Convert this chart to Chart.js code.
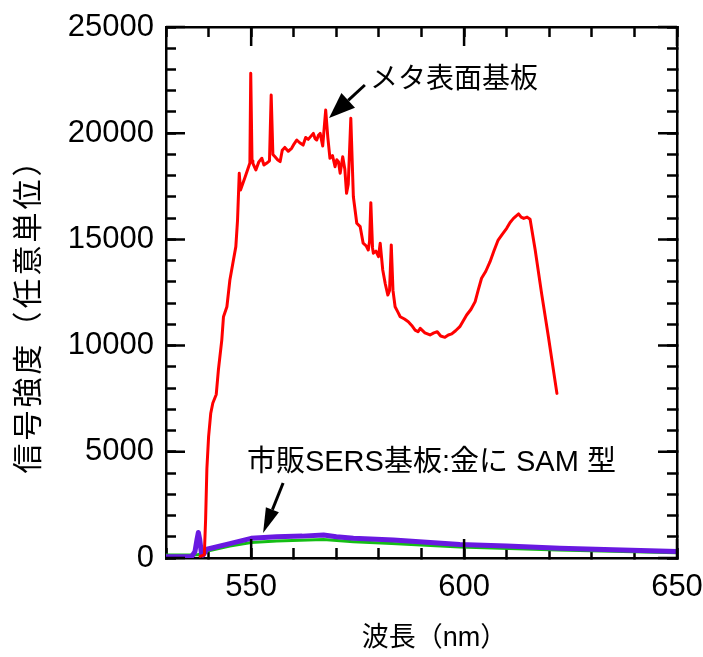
<!DOCTYPE html>
<html>
<head>
<meta charset="utf-8">
<script src="https://cdn.jsdelivr.net/npm/chart.js@4.4.0/dist/chart.umd.min.js"></script>
<style>
  html, body { margin: 0; padding: 0; background: #fff; }
</style>
</head>
<body>
<canvas id="spec" width="703" height="657"></canvas>
<script>
// metasurface substrate (red)
const redNm = [538.0, 539.0, 539.3, 539.6, 540.0, 540.5, 541.0, 541.8, 542.3, 543.1, 543.5, 544.3, 545.0, 545.7, 546.4, 546.8,
  547.2, 547.5, 548.6, 549.4, 549.7, 549.9, 550.2, 550.4, 551.1, 551.8, 552.5, 553.0, 553.6, 554.3, 554.7, 555.1, 555.6,
  556.2, 556.8, 557.3, 557.9, 558.7, 559.5, 560.1, 560.7, 561.4, 562.2, 562.8, 563.4, 564.0, 564.6, 565.0, 565.4, 565.8,
  566.2, 566.8, 567.5, 568.0, 568.5, 569.1, 569.7, 570.1, 570.5, 570.9, 571.5, 572.0, 572.4, 572.8,
  573.4, 574.0, 574.8, 575.6, 576.3, 577.0, 577.5, 577.8, 578.1, 578.5, 578.7, 579.3, 579.9, 580.3, 580.9, 581.5, 582.1,
  582.5, 582.9, 583.3, 583.8, 584.4, 585.0, 586.0, 586.9, 587.7, 588.5, 589.2, 589.7, 590.8, 592.0, 592.9, 593.7, 594.5,
  595.5, 596.3, 597.1, 598.0, 599.0, 600.6, 601.6, 602.6, 603.3, 604.1, 605.1, 606.1, 607.0, 608.0, 609.0, 610.0, 610.8,
  611.6, 612.2, 612.8, 613.4, 614.0, 614.8, 615.5, 616.7, 618.2, 619.8, 621.8];
const redVal = [80, 150, 1800, 4200, 5700, 6800, 7300, 7700, 8850, 10260, 11360, 11830, 13090, 13880, 14660, 15910,
  18110, 17330, 17950, 18420, 18600, 22820, 18700, 18580, 18270, 18650, 18820, 18500, 18580, 18700, 21800, 19000, 18890,
  18750, 18660, 19200, 19330, 19150, 19290, 19500, 19680, 19550, 19440, 19800, 19710, 19850, 19990, 19750, 19680, 19900,
  19990, 19400, 21090, 19800, 18820, 18950, 18420, 18750, 18660, 18110, 18890, 18300, 17170, 17600,
  20700, 17010, 15760, 15600, 14820, 14700, 14500, 14900, 16730, 14600, 14350, 14450, 14190, 14820, 13560, 12900, 12380,
  12600, 14740, 12600, 11830, 11600, 11360, 11250, 11125, 10950, 10730, 10650, 10810, 10600, 10500, 10600, 10650, 10450,
  10390, 10500, 10550, 10700, 10890, 11440, 11700, 12070, 12600, 13170, 13500, 13950, 14450, 14970, 15250, 15520, 15800,
  15990, 16100, 16200, 16050, 15990, 16050, 15950, 14500, 12460, 10420, 7750];

// commercial SERS substrate (purple)
const purpleNm = [530, 536.0, 536.8, 537.3, 537.6, 537.9, 538.3, 538.7, 539.6, 545, 550, 556, 562, 567, 570, 574, 583.4,
  599, 610, 622.5, 635, 650];
const purpleVal = [60, 60, 300, 900, 1200, 900, 250, 140, 410, 680, 925, 1000, 1030, 1080, 1000, 925, 850,
  640, 560, 455, 390, 310];

// commercial SERS substrate (green)
const greenNm = [530, 536, 537.5, 539.5, 545, 550, 556, 567, 574, 583, 599, 622, 650];
const greenVal = [140, 140, 150, 320, 560, 730, 800, 870, 770, 680, 520, 380, 250];

// axes
const xMin = 530, xMax = 650, xStep = 10;
const yMin = 0, yMax = 25000, yStep = 1000;
const xMajor = [550, 600, 650];
const yMajor = [0, 5000, 10000, 15000, 20000, 25000];

// annotations (data units)
const noteText = ['メタ表面基板', '市販SERS基板:金に SAM 型'];
const noteNm = [577.9, 549.0];
const noteVal = [22500, 4470];
const arrowFromNm = [576.7, 557.5];
const arrowFromVal = [22270, 3530];
const arrowToNm = [568.3, 552.8];
const arrowToVal = [20715, 1180];

const numFont = "'Liberation Sans', Arial, sans-serif";
const jpFont = "'Liberation Sans', 'Noto Sans CJK JP', sans-serif";

function toPoints(xs, ys) {
  return xs.map((x, i) => ({ x: x, y: ys[i] }));
}

function drawArrow(ctx, x1, y1, x2, y2, headLen, headW) {
  const ang = Math.atan2(y2 - y1, x2 - x1);
  const bx = x2 - headLen * Math.cos(ang), by = y2 - headLen * Math.sin(ang);
  ctx.beginPath();
  ctx.moveTo(x1, y1);
  ctx.lineTo(bx, by);
  ctx.lineWidth = 3;
  ctx.stroke();
  ctx.beginPath();
  ctx.moveTo(x2, y2);
  ctx.lineTo(bx + headW / 2 * Math.sin(ang), by - headW / 2 * Math.cos(ang));
  ctx.lineTo(bx - headW / 2 * Math.sin(ang), by + headW / 2 * Math.cos(ang));
  ctx.closePath();
  ctx.fill();
}

// fixed box sizes, no extra label overhang padding
function fixBox(size, horizontal) {
  return s => {
    if (horizontal) s.height = size; else s.width = size;
    s.paddingLeft = 0; s.paddingRight = 0; s.paddingTop = 0; s.paddingBottom = 0;
  };
}

const extras = {
  id: 'extras',
  afterDraw(chart) {
    const ctx = chart.ctx;
    const { left, right, top, bottom } = chart.chartArea;
    const sx = chart.scales.x, sy = chart.scales.y;
    ctx.save();
    ctx.strokeStyle = '#000';
    ctx.fillStyle = '#000';
    // longer major ticks
    ctx.lineWidth = 2.5;
    ctx.beginPath();
    xMajor.forEach(v => {
      const px = sx.getPixelForValue(v);
      ctx.moveTo(px, bottom); ctx.lineTo(px, bottom - 19);
      ctx.moveTo(px, top); ctx.lineTo(px, top + 19);
    });
    yMajor.forEach(v => {
      const py = sy.getPixelForValue(v);
      ctx.moveTo(left, py); ctx.lineTo(left + 19, py);
      ctx.moveTo(right, py); ctx.lineTo(right - 19, py);
    });
    ctx.stroke();

    // axis titles
    ctx.textAlign = 'center';
    ctx.textBaseline = 'middle';
    ctx.font = "27px " + jpFont;
    ctx.fillText('波長（nm）', (left + right) / 2 + 13, 639);
    ctx.save();
    ctx.translate(30, (top + bottom) / 2 + 16);
    ctx.rotate(-Math.PI / 2);
    ctx.font = "30px " + jpFont;
    ctx.letterSpacing = '3px';
    ctx.fillText('信号強度（任意単位）', 0, 0);
    ctx.restore();

    // annotations
    ctx.textAlign = 'left';
    for (let i = 0; i < noteText.length; i++) {
      ctx.font = (i === 0 ? "28px " : "29px ") + jpFont;
      ctx.fillText(noteText[i], sx.getPixelForValue(noteNm[i]), sy.getPixelForValue(noteVal[i]));
      drawArrow(ctx,
        sx.getPixelForValue(arrowFromNm[i]), sy.getPixelForValue(arrowFromVal[i]),
        sx.getPixelForValue(arrowToNm[i]), sy.getPixelForValue(arrowToVal[i]),
        i === 0 ? 26 : 25, i === 0 ? 20 : 14);
    }
    ctx.restore();
  }
};

const tickGrid = {
  drawOnChartArea: false,
  drawTicks: true,
  tickLength: -10,
  tickWidth: 2.5,
  tickColor: '#000'
};
const frameBorder = { display: true, color: '#000', width: 2.5 };

new Chart(document.getElementById('spec'), {
  type: 'line',
  data: {
    datasets: [
      { data: toPoints(redNm, redVal), borderColor: '#ff0000', borderWidth: 3 },
      { data: toPoints(purpleNm, purpleVal), borderColor: 'rgb(105,25,225)', borderWidth: 5 },
      { data: toPoints(greenNm, greenVal), borderColor: 'rgb(20,190,20)', borderWidth: 3 }
    ]
  },
  options: {
    responsive: false,
    animation: false,
    devicePixelRatio: 1,
    layout: { padding: 0 },
    elements: { point: { radius: 0 }, line: { tension: 0, borderCapStyle: 'round', borderJoinStyle: 'round' } },
    plugins: { legend: { display: false }, tooltip: { enabled: false } },
    scales: {
      x: {
        type: 'linear', position: 'bottom', min: xMin, max: xMax,
        afterFit: fixBox(99, true),
        ticks: {
          stepSize: xStep, autoSkip: false, maxRotation: 0, padding: 21, color: '#000',
          font: { family: numFont, size: 31 },
          callback: v => (xMajor.includes(v) ? String(v) : '')
        },
        grid: tickGrid, border: frameBorder
      },
      x2: {
        type: 'linear', axis: 'x', position: 'top', min: xMin, max: xMax,
        afterFit: fixBox(27, true),
        ticks: { stepSize: xStep, autoSkip: false, display: false },
        grid: tickGrid, border: frameBorder
      },
      y: {
        type: 'linear', position: 'left', min: yMin, max: yMax,
        afterFit: fixBox(166, false),
        ticks: {
          stepSize: yStep, autoSkip: false, padding: 22, color: '#000',
          font: { family: numFont, size: 31 },
          callback: v => (yMajor.includes(v) ? String(v) : '')
        },
        grid: tickGrid, border: frameBorder
      },
      y2: {
        type: 'linear', axis: 'y', position: 'right', min: yMin, max: yMax,
        afterFit: fixBox(26, false),
        ticks: { stepSize: yStep, autoSkip: false, display: false },
        grid: tickGrid, border: frameBorder
      }
    }
  },
  plugins: [extras]
});
</script>
</body>
</html>
